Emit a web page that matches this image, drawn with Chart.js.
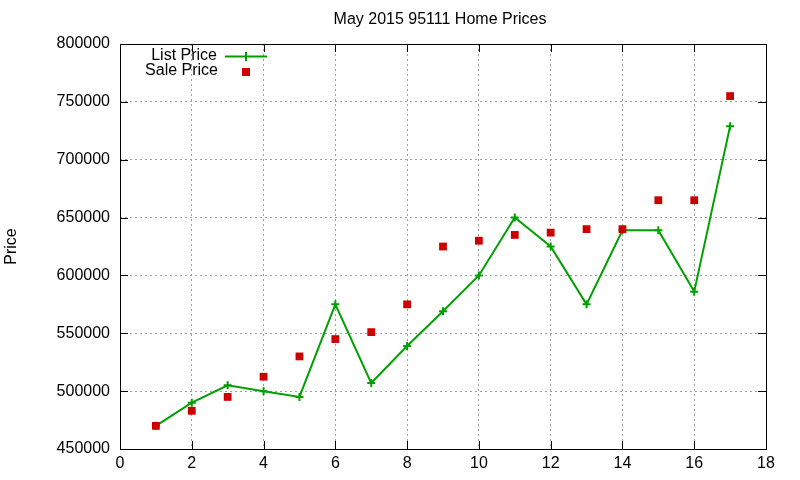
<!DOCTYPE html>
<html>
<head>
<meta charset="utf-8">
<script src="https://cdn.jsdelivr.net/npm/chart.js@4/dist/chart.umd.min.js"></script>
<style>
html,body{margin:0;padding:0;background:#fff;}
#wrap{width:800px;height:480px;position:relative;}
</style>
</head>
<body>
<div id="wrap"><canvas id="c" width="800" height="480"></canvas></div>
<script>
const chartTitle = "May 2015 95111 Home Prices";
const yAxisTitle = "Price";
const seriesNames = ["List Price", "Sale Price"];
const xValues = [1, 2, 3, 4, 5, 6, 7, 8, 9, 10, 11, 12, 13, 14, 15, 16, 17];
const listPrice = [470000, 490000, 505000, 500000, 495000, 575000, 507000, 539000, 569000, 600000, 650000, 625000, 575000, 639000, 639000, 586000, 729000];
const salePrice = [470000, 483000, 495000, 512500, 530000, 545000, 551000, 575000, 625000, 630000, 635000, 637000, 640000, 640000, 665000, 665000, 755000];
const xTicks = [0, 2, 4, 6, 8, 10, 12, 14, 16, 18];
const yTicks = [450000, 500000, 550000, 600000, 650000, 700000, 750000, 800000];

const GREEN = '#00a000';
const RED = '#cc0000';
const FONT = '"Liberation Sans", Arial, sans-serif';

const framePlugin = {
  id: 'frame',
  afterDraw(chart) {
    const ctx = chart.ctx;
    const a = chart.chartArea;
    const xs = chart.scales.x, ys = chart.scales.y;
    ctx.save();
    ctx.strokeStyle = '#000';
    ctx.lineWidth = 1;
    ctx.strokeRect(Math.round(a.left) + 0.5, Math.round(a.top) + 0.5, Math.round(a.right - a.left), Math.round(a.bottom - a.top));
    ctx.beginPath();
    xTicks.forEach(v => {
      const px = Math.round(xs.getPixelForValue(v)) + 0.5;
      ctx.moveTo(px, a.bottom); ctx.lineTo(px, a.bottom - 8);
      ctx.moveTo(px, a.top); ctx.lineTo(px, a.top + 8);
    });
    yTicks.forEach(v => {
      const py = Math.round(ys.getPixelForValue(v)) + 0.5;
      ctx.moveTo(a.left, py); ctx.lineTo(a.left + 8, py);
      ctx.moveTo(a.right, py); ctx.lineTo(a.right - 8, py);
    });
    ctx.stroke();

    ctx.fillStyle = '#000';
    ctx.font = '16px ' + FONT;
    ctx.textBaseline = 'middle';

    // chart title
    ctx.textAlign = 'center';
    ctx.fillText(chartTitle, 440, 20);

    // y-axis title
    ctx.save();
    ctx.translate(12, (a.top + a.bottom) / 2);
    ctx.rotate(-Math.PI / 2);
    ctx.fillText(yAxisTitle, 0, 0);
    ctx.restore();

    // legend
    ctx.textAlign = 'right';
    ctx.fillText(seriesNames[0], 217, 56);
    ctx.fillText(seriesNames[1], 218, 71);
    ctx.strokeStyle = GREEN;
    ctx.lineWidth = 2;
    ctx.beginPath();
    ctx.moveTo(225, 56.5); ctx.lineTo(267, 56.5);
    ctx.moveTo(246, 52); ctx.lineTo(246, 61);
    ctx.stroke();
    ctx.fillStyle = RED;
    ctx.fillRect(242, 68, 8, 8);
    ctx.restore();
  }
};

new Chart(document.getElementById('c'), {
  type: 'scatter',
  data: {
    datasets: [
      {
        label: seriesNames[0],
        data: xValues.map((x, i) => ({x: x, y: listPrice[i]})),
        showLine: true,
        order: 1,
        borderColor: GREEN,
        backgroundColor: GREEN,
        borderWidth: 2,
        pointStyle: 'cross',
        pointRadius: 4,
        pointBorderWidth: 2,
        pointHoverRadius: 4,
        tension: 0
      },
      {
        label: seriesNames[1],
        data: xValues.map((x, i) => ({x: x, y: salePrice[i]})),
        showLine: false,
        order: 0,
        borderColor: RED,
        backgroundColor: RED,
        pointStyle: 'rect',
        pointRadius: 5.5,
        pointBorderWidth: 0,
        pointHoverRadius: 5.5
      }
    ]
  },
  options: {
    responsive: false,
    animation: false,
    events: [],
    layout: {padding: {left: 0, right: 34, top: 44, bottom: 0}},
    plugins: {
      legend: {display: false},
      tooltip: {enabled: false},
      title: {display: false}
    },
    scales: {
      x: {
        type: 'linear',
        min: 0, max: 18,
        afterBuildTicks(scale) { scale.ticks = xTicks.map(v => ({value: v})); },
        afterFit(scale) { scale.height = 31; },
        ticks: {color: '#000', font: {family: FONT, size: 16}, padding: 5, callback: v => String(v), maxRotation: 0},
        grid: {color: '#a0a0a0', lineWidth: 1, drawTicks: false},
        border: {display: false, dash: [2, 3]}
      },
      y: {
        type: 'linear',
        min: 450000, max: 800000,
        afterBuildTicks(scale) { scale.ticks = yTicks.map(v => ({value: v})); },
        afterFit(scale) { scale.width = 120; },
        ticks: {color: '#000', font: {family: FONT, size: 16}, padding: 10, callback: v => String(v)},
        grid: {color: '#a0a0a0', lineWidth: 1, drawTicks: false},
        border: {display: false, dash: [2, 3]}
      }
    }
  },
  plugins: [framePlugin]
});
</script>
</body>
</html>
